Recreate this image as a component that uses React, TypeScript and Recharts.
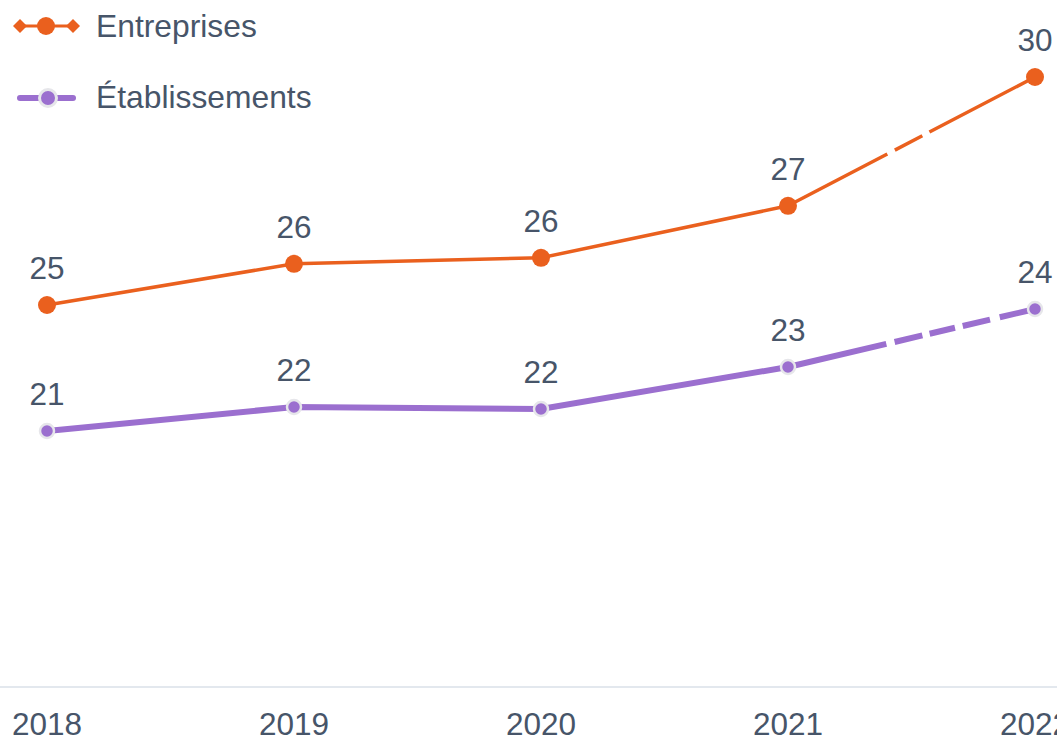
import React from 'react';
import { LineChart, Line, XAxis, YAxis, LabelList } from 'recharts';

const YEARS = ['2018', '2019', '2020', '2021', '2022'];
const ENTREPRISES = [24.55, 25.58, 25.73, 27.03, 30.25];
const ETABLISSEMENTS = [21.4, 22.0, 21.95, 23.0, 24.45];
const SERIES_NAMES = ['Entreprises', 'Établissements'];
const DASH_FROM = 3; // last solid point index; dashed afterwards

const ORANGE = '#ea601e';
const PURPLE = '#9b6fcf';
const TEXT = '#475569';
const RING = '#e6e6ea';
const FONT = '"Liberation Sans", Arial, sans-serif';

const data = YEARS.map((year, i) => ({
  year,
  ent: ENTREPRISES[i],
  etab: ETABLISSEMENTS[i],
  entSolid: i <= DASH_FROM ? ENTREPRISES[i] : null,
  entDash: i >= DASH_FROM ? ENTREPRISES[i] : null,
  etabSolid: i <= DASH_FROM ? ETABLISSEMENTS[i] : null,
  etabDash: i >= DASH_FROM ? ETABLISSEMENTS[i] : null,
}));

const fmt = (v: any) => String(Math.round(Number(v)));

const LegendContent = () => (
  <svg width={340} height={125} style={{ display: 'block', fontFamily: FONT }}>
    <line x1={20} y1={26} x2={73} y2={26} stroke={ORANGE} strokeWidth={3} />
    <polygon points="13,26 20,19 27,26 20,33" fill={ORANGE} />
    <polygon points="66,26 73,19 80,26 73,33" fill={ORANGE} />
    <circle cx={46} cy={26} r={9} fill={ORANGE} />
    <text x={96} y={37} fontSize={31.8} fill={TEXT}>{SERIES_NAMES[0]}</text>
    <line x1={20} y1={98} x2={73} y2={98} stroke={PURPLE} strokeWidth={6} strokeLinecap="round" />
    <circle cx={48} cy={98} r={8.5} fill={PURPLE} stroke={RING} strokeWidth={3} />
    <text x={96} y={108} fontSize={31.8} fill={TEXT}>{SERIES_NAMES[1]}</text>
  </svg>
);

export default function App() {
  return (
    <div
      style={{
        position: 'fixed',
        left: 0,
        top: 0,
        width: 1057,
        height: 738,
        overflow: 'hidden',
        background: '#ffffff',
        fontFamily: FONT,
      }}
    >
      <LineChart width={1100} height={760} data={data} margin={{ top: 47, right: 0, bottom: 0, left: 0 }}>
        <XAxis
          dataKey="year"
          height={73}
          padding={{ left: 47, right: 65 }}
          axisLine={{ stroke: '#e3e8ee', strokeWidth: 2 }}
          tickLine={false}
          tickSize={6}
          tickMargin={20}
          tick={{ fill: TEXT, fontSize: 31.5, fontFamily: FONT }}
          interval={0}
        />
        <YAxis hide domain={[15, 31]} type="number" allowDataOverflow />
        <Line dataKey="entSolid" stroke={ORANGE} strokeWidth={3.5} dot={false} activeDot={false} isAnimationActive={false} connectNulls={false} />
        <Line dataKey="entDash" stroke={ORANGE} strokeWidth={3.5} strokeDasharray="112 8.5 31 8 400" dot={false} activeDot={false} isAnimationActive={false} connectNulls={false} />
        <Line dataKey="etabSolid" stroke={PURPLE} strokeWidth={6} dot={false} activeDot={false} isAnimationActive={false} connectNulls={false} />
        <Line dataKey="etabDash" stroke={PURPLE} strokeWidth={6} strokeDasharray="101 8.5 28.5 7.5 26 8 28 10 400" dot={false} activeDot={false} isAnimationActive={false} connectNulls={false} />
        <Line
          dataKey="ent"
          name={SERIES_NAMES[0]}
          stroke="none"
          dot={{ r: 9, fill: ORANGE, stroke: 'none', strokeWidth: 0 }}
          activeDot={false}
          isAnimationActive={false}
        >
          <LabelList dataKey="ent" position="top" offset={26} formatter={fmt} fill={TEXT} fontSize={31.5} fontFamily={FONT} />
        </Line>
        <Line
          dataKey="etab"
          name={SERIES_NAMES[1]}
          stroke="none"
          dot={{ r: 7, fill: PURPLE, stroke: RING, strokeWidth: 2.5 }}
          activeDot={false}
          isAnimationActive={false}
        >
          <LabelList dataKey="etab" position="top" offset={26} formatter={fmt} fill={TEXT} fontSize={31.5} fontFamily={FONT} />
        </Line>
      </LineChart>
      <div style={{ position: 'absolute', left: 0, top: 0 }}>
        <LegendContent />
      </div>
    </div>
  );
}
